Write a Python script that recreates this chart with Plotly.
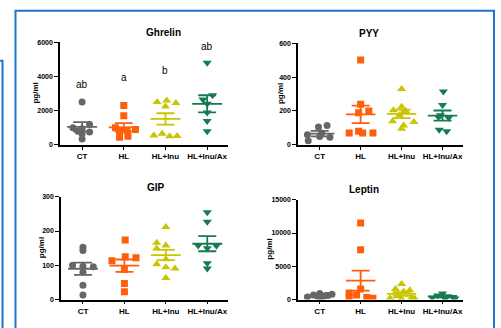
import plotly.graph_objects as go

groups = ["CT", "HL", "HL+Inu", "HL+Inu/Ax"]
colors = ["#666666", "#FF5F0A", "#C9C500", "#167A52"]
symbols = ["circle", "square", "triangle-up", "triangle-down"]
sizes = [7, 7, 8, 8]

# ---- values ----
ghrelin = [
    [2500, 1200, 1000, 950, 750, 800, 650, 350],
    [2300, 1700, 1000, 900, 850, 800, 450, 500],
    [2500, 2600, 2450, 2250, 550, 650, 500, 520],
    [4800, 2900, 2650, 2400, 1900, 1400, 800],
]
ghrelin_mean = [1060, 1030, 1520, 2400]
ghrelin_sem = [270, 240, 330, 500]
ghrelin_letters = ["ab", "a", "b", "ab"]
ghrelin_letter_y = [3550, 3950, 4350, 5750]

pyy = [
    [115, 105, 60, 50, 45, 25, 70],
    [500, 240, 200, 190, 80, 70, 70, 70],
    [330, 225, 205, 200, 175, 140, 135, 115, 95],
    [315, 235, 175, 160, 165, 90, 80],
]
pyy_mean = [67, 180, 183, 173]
pyy_sem = [16, 52, 25, 30]

gip = [
    [153, 143, 100, 97, 96, 80, 42, 13],
    [174, 125, 122, 113, 88, 47, 23],
    [212, 166, 158, 149, 118, 103, 94, 91, 63],
    [255, 227, 158, 157, 150, 106, 91],
]
gip_mean = [90, 99, 130, 163]
gip_sem = [18, 18, 15, 22]

leptin = [
    [900, 700, 600, 800, 400, 300, 500, 600],
    [11500, 7500, 1600, 1000, 700, 400, 300, 200],
    [2350, 1600, 1400, 1200, 500, 300, 200, 150, 100],
    [900, 600, 500, 400, 300, 200, 150],
]
leptin_mean = [600, 2850, 850, 430]
leptin_sem = [90, 1500, 280, 100]

# horizontal scatter offsets (category units) for point spreading
jitter = {
    "Ghrelin": [
        [0, 0.18, -0.22, 0, 0.18, -0.1, 0, 0],
        [0, 0, -0.2, 0.28, 0.08, -0.1, -0.1, 0.1],
        [-0.2, 0.03, 0.25, 0, -0.28, -0.08, 0.1, 0.28],
        [0, 0.13, -0.1, 0, 0, 0, 0],
    ],
    "PYY": [
        [0.18, -0.03, -0.3, 0, 0.25, -0.28, 0.05],
        [0, 0, 0.2, -0.05, -0.05, -0.28, 0.3, 0.05],
        [0, 0, -0.2, 0.1, -0.05, -0.22, 0.3, 0.05, 0],
        [0.02, 0, -0.05, 0.15, -0.1, -0.08, 0.1],
    ],
    "GIP": [
        [0, 0, -0.25, 0, 0.25, 0, 0, 0],
        [0.02, 0.02, 0.28, -0.3, 0, 0, 0],
        [0, -0.22, 0, -0.22, 0, -0.22, 0, 0.22, 0],
        [0, 0, -0.22, 0.22, 0, 0, 0],
    ],
    "Leptin": [
        [0, -0.15, 0.15, 0.3, -0.3, 0.05, -0.05, 0.2],
        [0, 0, 0, -0.28, -0.1, -0.28, 0.15, 0.3],
        [0, -0.15, 0.2, 0.05, -0.1, 0.25, -0.28, 0.32, 0],
        [0, -0.12, 0.12, 0.25, -0.25, 0.05, 0.3],
    ],
}

panels = [
    ("Ghrelin", ghrelin, ghrelin_mean, ghrelin_sem, [0, 2000, 4000, 6000], 6000),
    ("PYY", pyy, pyy_mean, pyy_sem, [0, 200, 400, 600], 600),
    ("GIP", gip, gip_mean, gip_sem, [0, 100, 200, 300], 300),
    ("Leptin", leptin, leptin_mean, leptin_sem, [0, 5000, 10000, 15000], 15000),
]

W, H = 501, 328
# pixel boxes of plot areas: (x0, x1, ytop, ybottom)
boxes = [(60, 228, 39, 144), (298, 463, 40, 144), (61, 228, 197, 302), (298, 463, 200, 302)]
ylabel_px = [36, 280, 41, 270]

fig = go.Figure()
FONT = "Liberation Sans, Arial, sans-serif"

for k, (name, data, means, sems, tickv, ymax) in enumerate(panels):
    xa = "x" if k == 0 else f"x{k+1}"
    ya = "y" if k == 0 else f"y{k+1}"
    for g in range(4):
        vals = data[g]
        xs = [g + j for j in jitter[name][g]]
        fig.add_trace(go.Scatter(
            x=xs, y=vals, mode="markers", xaxis=xa, yaxis=ya,
            marker=dict(symbol=symbols[g], color=colors[g], size=sizes[g], line=dict(width=0)),
            showlegend=False, hoverinfo="skip"))
        # mean line
        fig.add_trace(go.Scatter(
            x=[g - 0.36, g + 0.36], y=[means[g], means[g]], mode="lines",
            xaxis=xa, yaxis=ya, line=dict(color=colors[g], width=1.8),
            showlegend=False, hoverinfo="skip"))
        # SEM
        fig.add_trace(go.Scatter(
            x=[g], y=[means[g]], mode="markers", xaxis=xa, yaxis=ya,
            marker=dict(size=0.1, color=colors[g], opacity=0),
            error_y=dict(type="data", array=[sems[g]], color=colors[g], thickness=1.8, width=9),
            showlegend=False, hoverinfo="skip"))
    x0, x1, yt, yb = boxes[k]
    axkey_x = "xaxis" if k == 0 else f"xaxis{k+1}"
    axkey_y = "yaxis" if k == 0 else f"yaxis{k+1}"
    fig.update_layout({
        axkey_x: dict(domain=[x0 / W, x1 / W], range=[-0.53, 3.5], anchor=ya,
                      tickmode="array", tickvals=[0, 1, 2, 3], ticktext=groups,
                      showline=True, linecolor="black", linewidth=1.5, ticks="outside",
                      ticklen=3, tickwidth=1.2, tickcolor="black", showgrid=False, zeroline=False,
                      tickfont=dict(family=FONT, size=8, color="black", weight="bold"),
                      fixedrange=True),
        axkey_y: dict(domain=[1 - yb / H, 1 - yt / H], range=[0, ymax], anchor=xa,
                      tickmode="array", tickvals=tickv, ticktext=[str(v) for v in tickv],
                      showline=True, linecolor="black",
                      linewidth=1.5, ticks="outside", ticklen=4, tickwidth=1.2, tickcolor="black",
                      showgrid=False, zeroline=False,
                      tickfont=dict(family=FONT, size=7, color="black", weight="bold"),
                      fixedrange=True),
    })
    fig.add_annotation(text=name, xref="paper", yref="paper", x=(x0 + x1) / 2 / W,
                       y=1 - (yt - 10) / H, showarrow=False, yanchor="middle",
                       font=dict(family=FONT, size=10, color="black", weight="bold"))
    fig.add_annotation(text="pg/ml", xref="paper", yref="paper", x=ylabel_px[k] / W,
                       y=1 - (yt + yb) / 2 / H, showarrow=False, textangle=-90,
                       xanchor="center", yanchor="middle",
                       font=dict(family=FONT, size=8, color="black", weight="bold"))

for g in range(4):
    fig.add_annotation(text=ghrelin_letters[g], x=g, y=ghrelin_letter_y[g], xref="x", yref="y",
                       showarrow=False, font=dict(family=FONT, size=10, color="black"))

blue = "#1C74CC"
fig.add_shape(type="rect", xref="paper", yref="paper", x0=15.5 / W, x1=494 / W,
              y0=-0.2, y1=1 - 7 / H, line=dict(color=blue, width=2))
fig.add_shape(type="rect", xref="paper", yref="paper", x0=-0.2, x1=2.5 / W,
              y0=-0.2, y1=1 - 58 / H, line=dict(color=blue, width=2))

fig.update_layout(width=W, height=H, margin=dict(l=0, r=0, t=0, b=0),
                  paper_bgcolor="white", plot_bgcolor="white", showlegend=False)
fig.write_html("out.html")
